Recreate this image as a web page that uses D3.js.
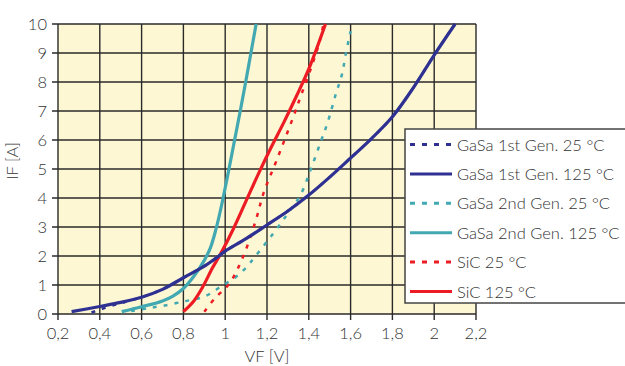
<!DOCTYPE html>
<html>
<head>
<script src="https://d3js.org/d3.v7.min.js"></script>
<style>
  body { margin: 0; background: white; }
  svg text { font-family: Lato, "Open Sans", sans-serif; font-weight: 300; fill: #333; }
  .grid line { stroke: #2a2a2a; stroke-width: 1.4px; }
</style>
</head>
<body>
<svg id="chart" width="625" height="366"></svg>
<script>
// VF [V] / IF [A] pairs
const gasa1_25 = [[0.36,0.05],[0.4,0.15],[0.45,0.27],[0.5,0.37],[0.6,0.58],[0.7,0.85],[0.8,1.25],[0.9,1.65],[0.975,2.03],[1.0,2.17],[1.1,2.6],[1.2,3.07],[1.3,3.55],[1.4,4.1],[1.5,4.72],[1.6,5.38],[1.7,6.05],[1.8,6.8],[1.9,7.8],[2.0,8.93],[2.1,10]];
const gasa1_125 = [[0.265,0.08],[0.4,0.26],[0.5,0.4],[0.6,0.58],[0.7,0.85],[0.8,1.25],[0.9,1.65],[0.975,2.03],[1.0,2.17],[1.1,2.6],[1.2,3.07],[1.3,3.55],[1.4,4.1],[1.5,4.72],[1.6,5.38],[1.7,6.05],[1.8,6.8],[1.9,7.8],[2.0,8.93],[2.1,10]];
const gasa2_25 = [[0.55,0.1],[0.63,0.2],[0.7,0.28],[0.8,0.43],[0.9,0.6],[0.98,0.95],[1.05,1.27],[1.1,1.6],[1.14,1.95],[1.23,2.78],[1.3,3.47],[1.36,4.1],[1.41,5.0],[1.46,6.0],[1.49,6.6],[1.53,7.6],[1.56,8.3],[1.575,8.9],[1.6,9.75]];
const gasa2_125 = [[0.505,0.08],[0.6,0.25],[0.7,0.45],[0.75,0.62],[0.8,0.88],[0.85,1.3],[0.9,1.85],[0.93,2.3],[0.955,2.9],[0.975,3.5],[0.99,4],[1.018,5],[1.045,6],[1.072,7],[1.098,8],[1.123,9],[1.148,10]];
const sic_25 = [[0.9,0.08],[0.95,0.54],[1.02,1.05],[1.087,2.0],[1.145,3.2],[1.185,4.2],[1.246,5.3],[1.326,6.8],[1.366,7.6],[1.414,8.55],[1.454,9.45],[1.47,10]];
const sic_125 = [[0.8,0.08],[0.85,0.45],[0.89,0.9],[0.94,1.6],[0.98,2.1],[1.04,2.95],[1.1,3.9],[1.16,4.85],[1.22,5.75],[1.28,6.6],[1.34,7.5],[1.4,8.45],[1.48,10]];

const seriesNames = ["GaSa 1st Gen. 25 °C", "GaSa 1st Gen. 125 °C", "GaSa 2nd Gen. 25 °C", "GaSa 2nd Gen. 125 °C", "SiC 25 °C", "SiC 125 °C"];
const seriesData = [gasa1_25, gasa1_125, gasa2_25, gasa2_125, sic_25, sic_125];
const seriesColors = ["#2e3192", "#2e3192", "#42a8b2", "#42a8b2", "#ed1c24", "#ed1c24"];
const seriesDotted = [true, false, true, false, true, false];

const xTicks = [0.2, 0.4, 0.6, 0.8, 1.0, 1.2, 1.4, 1.6, 1.8, 2.0, 2.2];
const yTicks = [0, 1, 2, 3, 4, 5, 6, 7, 8, 9, 10];

const svg = d3.select("#chart");
const margin = {left: 58, top: 24, right: 149, bottom: 52};
const width = 625 - margin.left - margin.right;
const height = 366 - margin.top - margin.bottom;

const x = d3.scaleLinear().domain([0.2, 2.2]).range([0, width]);
const y = d3.scaleLinear().domain([0, 10]).range([height, 0]);

const plot = svg.append("g").attr("transform", `translate(${margin.left},${margin.top})`);

plot.append("rect")
    .attr("width", width).attr("height", height)
    .attr("fill", "#fdf8d3");

// Grid lines
const grid = plot.append("g").attr("class", "grid");
grid.selectAll("line.v").data(xTicks).join("line")
    .attr("class", "v")
    .attr("x1", d => x(d)).attr("x2", d => x(d))
    .attr("y1", 0).attr("y2", height + 6);
grid.selectAll("line.h").data(yTicks).join("line")
    .attr("class", "h")
    .attr("x1", -6).attr("x2", width)
    .attr("y1", d => y(d)).attr("y2", d => y(d));

// Tick labels
const commaFmt = d => d3.format(".1~f")(d).replace(".", ",");
plot.selectAll("text.xt").data(xTicks).join("text")
    .attr("class", "xt")
    .attr("x", d => x(d)).attr("y", height + 25)
    .attr("text-anchor", "middle")
    .style("font-size", "16.5px")
    .text(commaFmt);
plot.selectAll("text.yt").data(yTicks).join("text")
    .attr("class", "yt")
    .attr("x", -11).attr("y", d => y(d) + 6)
    .attr("text-anchor", "end")
    .style("font-size", "16.5px")
    .text(d => d);

// Axis titles
plot.append("text")
    .attr("x", width / 2).attr("y", height + 48)
    .attr("text-anchor", "middle")
    .style("font-size", "16.5px")
    .text("VF [V]");
plot.append("text")
    .attr("transform", `translate(-40,${height / 2 - 8}) rotate(-90)`)
    .attr("text-anchor", "middle")
    .style("font-size", "16.5px")
    .text("IF [A]");

// Curves
const line = d3.line().x(d => x(d[0])).y(d => y(d[1])).curve(d3.curveCatmullRom.alpha(0.5));
const order = [0, 2, 4, 3, 5, 1];
order.forEach(i => {
    plot.append("path")
        .datum(seriesData[i])
        .attr("d", line)
        .attr("fill", "none")
        .attr("stroke", seriesColors[i])
        .attr("stroke-width", seriesDotted[i] ? 2.5 : 3.2)
        .attr("stroke-dasharray", seriesDotted[i] ? "4,7" : null);
});

// Legend
const legend = svg.append("g").attr("transform", "translate(405,129)");
legend.append("rect")
    .attr("x", 0).attr("y", 0)
    .attr("width", 230).attr("height", 174)
    .attr("fill", "white")
    .attr("stroke", "#444").attr("stroke-width", 1.5);
seriesNames.forEach((name, i) => {
    const ly = 15.5 + i * 29.4;
    legend.append("line")
        .attr("x1", 5).attr("x2", 47)
        .attr("y1", ly).attr("y2", ly)
        .attr("stroke", seriesColors[i])
        .attr("stroke-width", 3)
        .attr("stroke-dasharray", seriesDotted[i] ? "5,7" : null);
    legend.append("text")
        .attr("x", 52).attr("y", ly + 6)
        .style("font-size", "16.5px")
        .text(name);
});
</script>
</body>
</html>
